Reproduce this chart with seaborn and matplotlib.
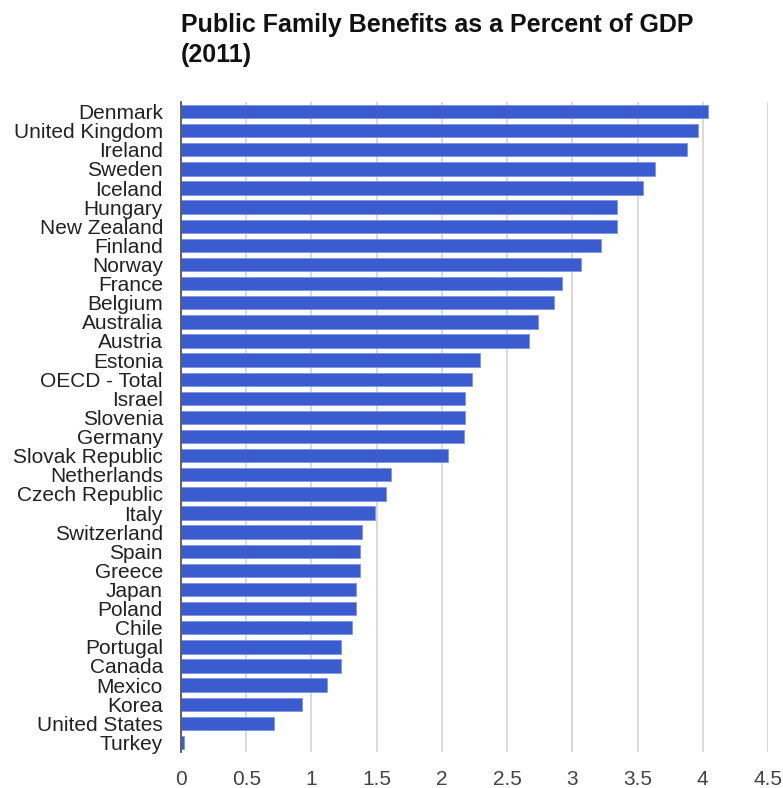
import matplotlib
matplotlib.use("Agg")
import matplotlib.pyplot as plt
import seaborn as sns
import pandas as pd

countries = [
    "Denmark", "United Kingdom", "Ireland", "Sweden", "Iceland", "Hungary",
    "New Zealand", "Finland", "Norway", "France", "Belgium", "Australia",
    "Austria", "Estonia", "OECD - Total", "Israel", "Slovenia", "Germany",
    "Slovak Republic", "Netherlands", "Czech Republic", "Italy", "Switzerland",
    "Spain", "Greece", "Japan", "Poland", "Chile", "Portugal", "Canada",
    "Mexico", "Korea", "United States", "Turkey",
]
benefits_pct_gdp = [
    4.04, 3.96, 3.88, 3.63, 3.54, 3.34,
    3.34, 3.22, 3.07, 2.92, 2.86, 2.74,
    2.67, 2.29, 2.23, 2.18, 2.18, 2.17,
    2.05, 1.61, 1.57, 1.49, 1.39,
    1.37, 1.37, 1.34, 1.34, 1.31, 1.23, 1.23,
    1.12, 0.93, 0.71, 0.02,
]
x_ticks = [0, 0.5, 1, 1.5, 2, 2.5, 3, 3.5, 4, 4.5]
x_tick_labels = ["0", "0.5", "1", "1.5", "2", "2.5", "3", "3.5", "4", "4.5"]

df = pd.DataFrame({"country": countries, "value": benefits_pct_gdp})

sns.set_theme(style="white")
plt.rcParams["font.family"] = ["Liberation Sans", "DejaVu Sans"]

W, H = 783, 788
fig = plt.figure(figsize=(W / 100, H / 100), dpi=100)
ax = fig.add_axes([181 / W, 1 - 752 / H, 587 / W, 650 / H])

sns.barplot(data=df, x="value", y="country", orient="h", ax=ax,
            color="#3a5ccf", width=0.7, saturation=1,
            edgecolor="#7f95e0", linewidth=0.6, zorder=3)

ax.set_xlim(0, 4.5)
ax.set_xticks(x_ticks)
ax.set_xticklabels(x_tick_labels)
ax.set_xlabel("")
ax.set_ylabel("")

ax.grid(axis="x", color="#d0d0d0", linewidth=1.1, zorder=0)
ax.grid(axis="y", visible=False)
ax.set_axisbelow(True)
for side in ["top", "right", "bottom"]:
    ax.spines[side].set_visible(False)
ax.spines["left"].set_color("#555555")
ax.spines["left"].set_linewidth(1.3)
ax.spines["left"].set_zorder(4)

ax.tick_params(axis="y", length=0, pad=13, labelsize=15, labelcolor="#222222")
ax.tick_params(axis="x", length=0, pad=13, labelsize=15, labelcolor="#444444")

fig.text(181 / W, 1 - 32 / H, "Public Family Benefits as a Percent of GDP",
         fontsize=18, fontweight="bold", color="#111111", va="baseline", ha="left")
fig.text(181 / W, 1 - 62 / H, "(2011)",
         fontsize=18, fontweight="bold", color="#111111", va="baseline", ha="left")

fig.savefig("out.png", dpi=100, facecolor="white")
